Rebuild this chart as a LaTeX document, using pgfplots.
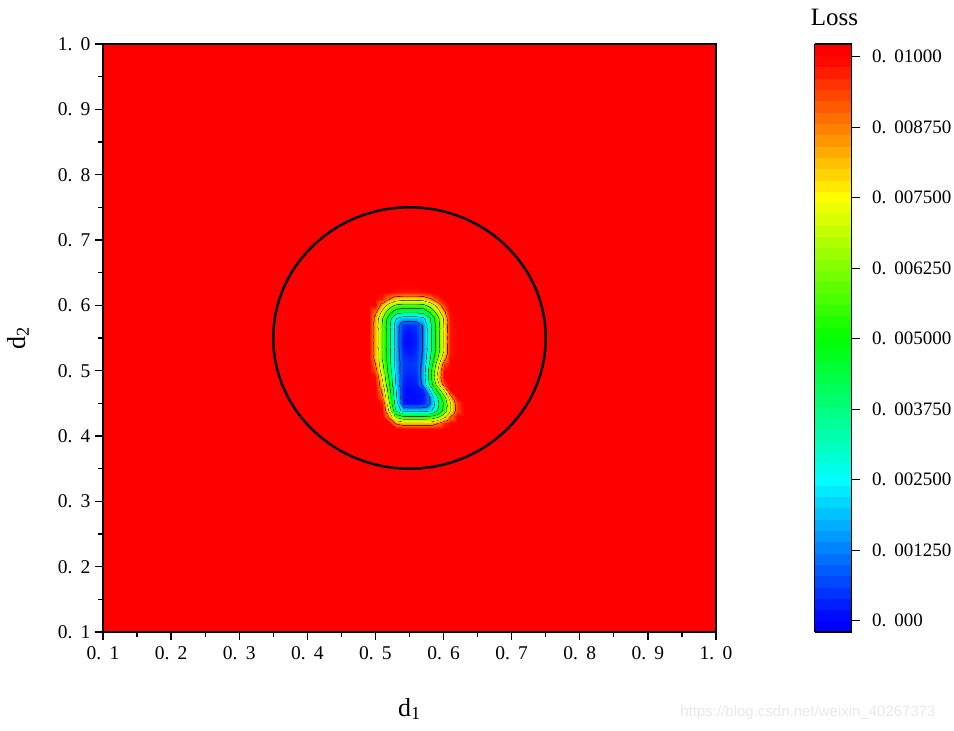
\documentclass[border=0pt]{standalone}
\usepackage{fontspec}
\setmainfont{Liberation Serif}
\newfontfamily\wmfont{Liberation Sans}
\usepackage{pgfplots}
\usepackage{pgfplotstable}
\pgfplotsset{compat=1.18}
\pgfplotsset{
 colormap={lossbar}{rgb255(-2)=(0,0,255) rgb255(0)=(0,0,255) rgb255(25)=(0,255,255) rgb255(50)=(0,255,0) rgb255(75)=(255,255,0) rgb255(100)=(255,0,0) rgb255(102.25)=(255,0,0)},
 colormap={lossmap}{rgb255(-2)=(0,0,255) rgb255(0)=(0,0,255)
  rgb255(10.7)=(0,109,255) rgb255(12.5)=(0,32,64) rgb255(14.3)=(0,146,255)
  rgb255(23.2)=(0,237,255) rgb255(25)=(0,64,64) rgb255(26.8)=(0,255,237)
  rgb255(35.7)=(0,255,146) rgb255(37.5)=(0,64,32) rgb255(39.3)=(0,255,109)
  rgb255(48.2)=(0,255,18) rgb255(50)=(0,64,0) rgb255(51.8)=(18,255,0)
  rgb255(60.7)=(109,255,0) rgb255(62.5)=(32,64,0) rgb255(64.3)=(146,255,0)
  rgb255(73.2)=(237,255,0) rgb255(75)=(64,64,0) rgb255(76.8)=(255,237,0)
  rgb255(85.7)=(255,146,0) rgb255(87.5)=(64,32,0) rgb255(89.3)=(255,109,0)
  rgb255(100)=(255,0,0) rgb255(102.25)=(255,0,0)},
}
% Loss values in units of 1e-4
\pgfplotstableread{
x y z
0.1 0.1 100
0.49 0.1 100
0.50 0.1 100
0.51 0.1 100
0.52 0.1 100
0.53 0.1 100
0.54 0.1 100
0.55 0.1 100
0.56 0.1 100
0.57 0.1 100
0.58 0.1 100
0.59 0.1 100
0.60 0.1 100
0.61 0.1 100
0.62 0.1 100
0.63 0.1 100
1.0 0.1 100
0.1 0.41 100
0.49 0.41 100
0.50 0.41 100
0.51 0.41 100
0.52 0.41 100
0.53 0.41 100
0.54 0.41 100
0.55 0.41 100
0.56 0.41 100
0.57 0.41 100
0.58 0.41 100
0.59 0.41 100
0.60 0.41 100
0.61 0.41 100
0.62 0.41 100
0.63 0.41 100
1.0 0.41 100
0.1 0.42 100
0.49 0.42 100
0.50 0.42 100
0.51 0.42 100
0.52 0.42 100
0.53 0.42 86
0.54 0.42 81
0.55 0.42 81
0.56 0.42 81
0.57 0.42 81
0.58 0.42 82
0.59 0.42 87
0.60 0.42 96
0.61 0.42 100
0.62 0.42 100
0.63 0.42 100
1.0 0.42 100
0.1 0.43 100
0.49 0.43 100
0.50 0.43 100
0.51 0.43 100
0.52 0.43 84
0.53 0.43 57
0.54 0.43 50
0.55 0.43 50
0.56 0.43 50
0.57 0.43 50
0.58 0.43 51
0.59 0.43 58
0.60 0.43 71
0.61 0.43 87
0.62 0.43 100
0.63 0.43 100
1.0 0.43 100
0.1 0.44 100
0.49 0.44 100
0.50 0.44 100
0.51 0.44 100
0.52 0.44 71
0.53 0.44 34
0.54 0.44 19
0.55 0.44 19
0.56 0.44 19
0.57 0.44 19
0.58 0.44 22
0.59 0.44 37
0.60 0.44 55
0.61 0.44 74
0.62 0.44 93
0.63 0.44 100
1.0 0.44 100
0.1 0.45 100
0.49 0.45 100
0.50 0.45 100
0.51 0.45 98
0.52 0.45 63
0.53 0.45 28
0.54 0.45 2
0.55 0.45 1
0.56 0.45 1
0.57 0.45 3
0.58 0.45 13
0.59 0.45 33
0.60 0.45 54
0.61 0.45 74
0.62 0.45 94
0.63 0.45 100
1.0 0.45 100
0.1 0.46 100
0.49 0.46 100
0.50 0.46 100
0.51 0.46 90
0.52 0.46 58
0.53 0.46 26
0.54 0.46 2
0.55 0.46 1
0.56 0.46 1
0.57 0.46 2
0.58 0.46 14
0.59 0.46 37
0.60 0.46 59
0.61 0.46 82
0.62 0.46 100
0.63 0.46 100
1.0 0.46 100
0.1 0.47 100
0.49 0.47 100
0.50 0.47 100
0.51 0.47 84
0.52 0.47 54
0.53 0.47 24
0.54 0.47 2
0.55 0.47 1
0.56 0.47 2
0.57 0.47 3
0.58 0.47 27
0.59 0.47 52
0.60 0.47 76
0.61 0.47 100
0.62 0.47 100
0.63 0.47 100
1.0 0.47 100
0.1 0.48 100
0.49 0.48 100
0.50 0.48 100
0.51 0.48 78
0.52 0.48 50
0.53 0.48 22
0.54 0.48 3
0.55 0.48 2
0.56 0.48 3
0.57 0.48 16
0.58 0.48 42
0.59 0.48 69
0.60 0.48 95
0.61 0.48 100
0.62 0.48 100
0.63 0.48 100
1.0 0.48 100
0.1 0.49 100
0.49 0.49 100
0.50 0.49 99
0.51 0.49 73
0.52 0.49 47
0.53 0.49 21
0.54 0.49 4
0.55 0.49 3
0.56 0.49 4
0.57 0.49 18
0.58 0.49 47
0.59 0.49 77
0.60 0.49 100
0.61 0.49 100
0.62 0.49 100
0.63 0.49 100
1.0 0.49 100
0.1 0.50 100
0.49 0.50 100
0.50 0.50 93
0.51 0.50 68
0.52 0.50 44
0.53 0.50 20
0.54 0.50 5
0.55 0.50 4
0.56 0.50 5
0.57 0.50 17
0.58 0.50 46
0.59 0.50 74
0.60 0.50 100
0.61 0.50 100
0.62 0.50 100
0.63 0.50 100
1.0 0.50 100
0.1 0.51 100
0.49 0.51 100
0.50 0.51 88
0.51 0.51 65
0.52 0.51 42
0.53 0.51 19
0.54 0.51 6
0.55 0.51 5
0.56 0.51 6
0.57 0.51 16
0.58 0.51 42
0.59 0.51 69
0.60 0.51 95
0.61 0.51 100
0.62 0.51 100
0.63 0.51 100
1.0 0.51 100
0.1 0.52 100
0.49 0.52 100
0.50 0.52 83
0.51 0.52 61
0.52 0.52 40
0.53 0.52 18
0.54 0.52 5
0.55 0.52 4
0.56 0.52 5
0.57 0.52 15
0.58 0.52 38
0.59 0.52 61
0.60 0.52 84
0.61 0.52 100
0.62 0.52 100
0.63 0.52 100
1.0 0.52 100
0.1 0.53 100
0.49 0.53 100
0.50 0.53 83
0.51 0.53 61
0.52 0.53 40
0.53 0.53 18
0.54 0.53 3
0.55 0.53 2
0.56 0.53 4
0.57 0.53 14
0.58 0.53 35
0.59 0.53 56
0.60 0.53 77
0.61 0.53 98
0.62 0.53 100
0.63 0.53 100
1.0 0.53 100
0.1 0.54 100
0.49 0.54 100
0.50 0.54 83
0.51 0.54 61
0.52 0.54 40
0.53 0.54 18
0.54 0.54 2
0.55 0.54 1
0.56 0.54 3
0.57 0.54 14
0.58 0.54 35
0.59 0.54 56
0.60 0.54 77
0.61 0.54 98
0.62 0.54 100
0.63 0.54 100
1.0 0.54 100
0.1 0.55 100
0.49 0.55 100
0.50 0.55 83
0.51 0.55 61
0.52 0.55 40
0.53 0.55 18
0.54 0.55 2
0.55 0.55 1
0.56 0.55 3
0.57 0.55 14
0.58 0.55 35
0.59 0.55 56
0.60 0.55 77
0.61 0.55 98
0.62 0.55 100
0.63 0.55 100
1.0 0.55 100
0.1 0.56 100
0.49 0.56 100
0.50 0.56 83
0.51 0.56 61
0.52 0.56 40
0.53 0.56 18
0.54 0.56 3
0.55 0.56 2
0.56 0.56 4
0.57 0.56 14
0.58 0.56 35
0.59 0.56 56
0.60 0.56 77
0.61 0.56 98
0.62 0.56 100
0.63 0.56 100
1.0 0.56 100
0.1 0.57 100
0.49 0.57 100
0.50 0.57 83
0.51 0.57 61
0.52 0.57 40
0.53 0.57 18
0.54 0.57 5
0.55 0.57 4
0.56 0.57 5
0.57 0.57 14
0.58 0.57 35
0.59 0.57 56
0.60 0.57 77
0.61 0.57 98
0.62 0.57 100
0.63 0.57 100
1.0 0.57 100
0.1 0.58 100
0.49 0.58 100
0.50 0.58 84
0.51 0.58 63
0.52 0.58 43
0.53 0.58 25
0.54 0.58 19
0.55 0.58 19
0.56 0.58 19
0.57 0.58 22
0.58 0.58 38
0.59 0.58 58
0.60 0.58 78
0.61 0.58 99
0.62 0.58 100
0.63 0.58 100
1.0 0.58 100
0.1 0.59 100
0.49 0.59 100
0.50 0.59 90
0.51 0.59 71
0.52 0.59 54
0.53 0.59 42
0.54 0.59 39
0.55 0.59 39
0.56 0.59 39
0.57 0.59 40
0.58 0.59 51
0.59 0.59 67
0.60 0.59 85
0.61 0.59 100
0.62 0.59 100
0.63 0.59 100
1.0 0.59 100
0.1 0.60 100
0.49 0.60 100
0.50 0.60 100
0.51 0.60 83
0.52 0.60 69
0.53 0.60 60
0.54 0.60 58
0.55 0.60 58
0.56 0.60 58
0.57 0.60 59
0.58 0.60 67
0.59 0.60 79
0.60 0.60 95
0.61 0.60 100
0.62 0.60 100
0.63 0.60 100
1.0 0.60 100
0.1 0.61 100
0.49 0.61 100
0.50 0.61 100
0.51 0.61 98
0.52 0.61 87
0.53 0.61 80
0.54 0.61 78
0.55 0.61 78
0.56 0.61 78
0.57 0.61 79
0.58 0.61 85
0.59 0.61 95
0.60 0.61 100
0.61 0.61 100
0.62 0.61 100
0.63 0.61 100
1.0 0.61 100
0.1 0.62 100
0.49 0.62 100
0.50 0.62 100
0.51 0.62 100
0.52 0.62 100
0.53 0.62 99
0.54 0.62 98
0.55 0.62 98
0.56 0.62 98
0.57 0.62 99
0.58 0.62 100
0.59 0.62 100
0.60 0.62 100
0.61 0.62 100
0.62 0.62 100
0.63 0.62 100
1.0 0.62 100
0.1 0.63 100
0.49 0.63 100
0.50 0.63 100
0.51 0.63 100
0.52 0.63 100
0.53 0.63 100
0.54 0.63 100
0.55 0.63 100
0.56 0.63 100
0.57 0.63 100
0.58 0.63 100
0.59 0.63 100
0.60 0.63 100
0.61 0.63 100
0.62 0.63 100
0.63 0.63 100
1.0 0.63 100
0.1 1.0 100
0.49 1.0 100
0.50 1.0 100
0.51 1.0 100
0.52 1.0 100
0.53 1.0 100
0.54 1.0 100
0.55 1.0 100
0.56 1.0 100
0.57 1.0 100
0.58 1.0 100
0.59 1.0 100
0.60 1.0 100
0.61 1.0 100
0.62 1.0 100
0.63 1.0 100
1.0 1.0 100
}\losstable
\newcommand\T[2]{#1.\hspace{0.42em}#2}
\begin{document}
\begin{tikzpicture}[x=1pt,y=1pt]
\path[use as bounding box] (0,0) rectangle (954,731);
\begin{axis}[
  at={(103pt,99pt)}, anchor=south west,
  scale only axis, width=613pt, height=588pt,
  xmin=0.1, xmax=1.0, ymin=0.1, ymax=1.0,
  axis on top,
  axis line style={line width=1.5pt},
  every tick/.style={black, line width=1.3pt},
  tick align=outside,
  major tick length=8pt, minor tick length=5pt,
  xtick pos=left, ytick pos=left,
  xtick={0.1,0.2,...,1.0}, ytick={0.1,0.2,...,1.0},
  minor x tick num=1, minor y tick num=1,
  xticklabels={\T01,\T02,\T03,\T04,\T05,\T06,\T07,\T08,\T09,\T10},
  yticklabels={\T01,\T02,\T03,\T04,\T05,\T06,\T07,\T08,\T09,\T10},
  ticklabel style={font=\fontsize{19.5}{22}\selectfont},
  xticklabel style={yshift=-3pt},
  yticklabel style={xshift=-1pt},
  xlabel={d\textsubscript{1}},
  ylabel={d\textsubscript{2}},
  label style={font=\fontsize{26}{30}\selectfont},
  x label style={at={(axis description cs:0.5,-0.131)}, anchor=center},
  y label style={at={(axis description cs:-0.1387,0.5)}, anchor=center, rotate=0},
  colormap name=lossmap,
  point meta min=-2, point meta max=102.25,
  colorbar,
  colorbar style={
    colormap name=lossbar,
    at={(parent axis.north east)}, anchor=north west, xshift=90pt,
    width=37pt,
    axis on top,
    axis line style={line width=1.5pt},
    major tick length=0pt,
    ytick pos=right, yticklabel pos=right,
    ytick={0,12.5,25,37.5,50,62.5,75,87.5,100},
    yticklabels={\T0{000},\T0{001250},\T0{002500},\T0{003750},\T0{005000},\T0{006250},\T0{007500},\T0{008750},\T0{01000}},
    yticklabel style={font=\fontsize{19}{22}\selectfont, xshift=17pt},
    samples=53,
    after end axis/.code={
      \foreach \r in {0.019185,0.139089,0.258993,0.378897,0.498801,0.618705,0.738609,0.858513,0.978417}
        {\draw[line width=1.3pt] (rel axis cs:1,\r) -- ++(8pt,0pt);}
    },
  },
  colorbar sampled,
]
\addplot[surf, shader=interp, mesh/cols=17, point meta=\thisrow{z}] table[x=x, y=y] {\losstable};
\draw[line width=2.5pt] (axis cs:0.55,0.55) ellipse [x radius=0.2, y radius=0.2];
\end{axis}
\node[font=\fontsize{25}{30}\selectfont] at (834.5,714) {Loss};
\node[font=\wmfont\fontsize{15}{18}\selectfont, text=black!9] at (808,18) {https://blog.csdn.net/weixin\_40267373};
\end{tikzpicture}
\end{document}
